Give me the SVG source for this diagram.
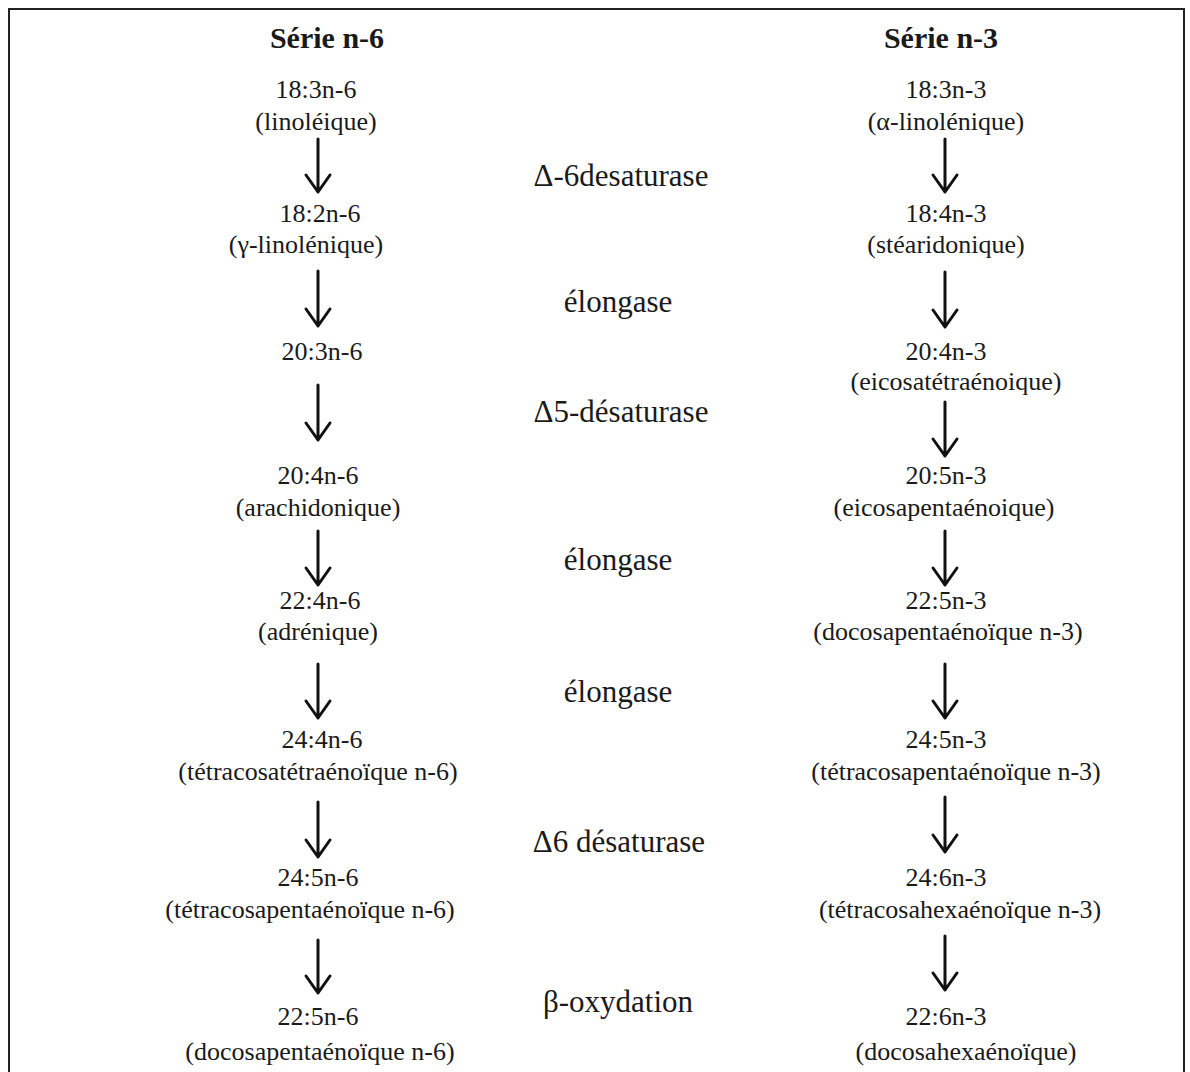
<svg xmlns="http://www.w3.org/2000/svg" width="1190" height="1072" viewBox="0 0 1190 1072">
<style>
  text { font-family: "Liberation Serif", "Times New Roman", serif; fill: #1a1a1a; text-anchor: middle; }
  .hdr { font-size: 30px; font-weight: bold; }
  .n { font-size: 26px; }
  .enz { font-size: 31px; }
  .arr { stroke: #111; stroke-width: 3; fill: none; stroke-linecap: round; stroke-linejoin: round; }
</style>
<rect x="0" y="0" width="1190" height="1072" fill="#ffffff"/>
<rect x="9" y="9" width="1175" height="1080" fill="none" stroke="#222" stroke-width="2"/>

<g id="headers">
  <text id="hdr-n6" class="hdr" x="327" y="48">Série n-6</text>
  <text id="hdr-n3" class="hdr" x="941" y="48">Série n-3</text>
</g>

<g id="enzymes">
  <text id="enz1" class="enz" x="621" y="186">Δ-6desaturase</text>
  <text id="enz2" class="enz" x="618" y="312">élongase</text>
  <text id="enz3" class="enz" x="621" y="422">Δ5-désaturase</text>
  <text id="enz4" class="enz" x="618" y="570">élongase</text>
  <text id="enz5" class="enz" x="618" y="702">élongase</text>
  <text id="enz6" class="enz" x="619" y="852">Δ6 désaturase</text>
  <text id="enz7" class="enz" x="618" y="1012">β-oxydation</text>
</g>

<g id="n6-1"><text class="n" x="316" y="98">18:3n-6</text><text class="n" x="316" y="130">(linoléique)</text></g>
<g id="n6-2"><text class="n" x="320" y="222">18:2n-6</text><text class="n" x="306" y="253">(γ-linolénique)</text></g>
<g id="n6-3"><text class="n" x="322" y="360">20:3n-6</text></g>
<g id="n6-4"><text class="n" x="318" y="484">20:4n-6</text><text class="n" x="318" y="516">(arachidonique)</text></g>
<g id="n6-5"><text class="n" x="320" y="609">22:4n-6</text><text class="n" x="318" y="640">(adrénique)</text></g>
<g id="n6-6"><text class="n" x="322" y="748">24:4n-6</text><text class="n" x="318" y="780">(tétracosatétraénoïque n-6)</text></g>
<g id="n6-7"><text class="n" x="318" y="886">24:5n-6</text><text class="n" x="310" y="918">(tétracosapentaénoïque n-6)</text></g>
<g id="n6-8"><text class="n" x="318" y="1025">22:5n-6</text><text class="n" x="320" y="1060">(docosapentaénoïque n-6)</text></g>

<g id="n3-1"><text class="n" x="946" y="98">18:3n-3</text><text class="n" x="946" y="130">(α-linolénique)</text></g>
<g id="n3-2"><text class="n" x="946" y="222">18:4n-3</text><text class="n" x="946" y="253">(stéaridonique)</text></g>
<g id="n3-3"><text class="n" x="946" y="360">20:4n-3</text><text class="n" x="956" y="390">(eicosatétraénoique)</text></g>
<g id="n3-4"><text class="n" x="946" y="484">20:5n-3</text><text class="n" x="944" y="516">(eicosapentaénoique)</text></g>
<g id="n3-5"><text class="n" x="946" y="609">22:5n-3</text><text class="n" x="948" y="640">(docosapentaénoïque n-3)</text></g>
<g id="n3-6"><text class="n" x="946" y="748">24:5n-3</text><text class="n" x="956" y="780">(tétracosapentaénoïque n-3)</text></g>
<g id="n3-7"><text class="n" x="946" y="886">24:6n-3</text><text class="n" x="960" y="918">(tétracosahexaénoïque n-3)</text></g>
<g id="n3-8"><text class="n" x="946" y="1025">22:6n-3</text><text class="n" x="966" y="1060">(docosahexaénoïque)</text></g>

<g id="connectors" class="arr">
  <path d="M318 139 V192 M306 175 L318 192 L330 175"/>
  <path d="M318 271 V326 M306 309 L318 326 L330 309"/>
  <path d="M318 385 V440 M306 423 L318 440 L330 423"/>
  <path d="M318 531 V585 M306 568 L318 585 L330 568"/>
  <path d="M318 664 V718 M306 701 L318 718 L330 701"/>
  <path d="M318 802 V857 M306 840 L318 857 L330 840"/>
  <path d="M318 940 V993 M306 976 L318 993 L330 976"/>

  <path d="M945 139 V192 M933 175 L945 192 L957 175"/>
  <path d="M945 272 V327 M933 310 L945 327 L957 310"/>
  <path d="M945 402 V456 M933 439 L945 456 L957 439"/>
  <path d="M945 531 V585 M933 568 L945 585 L957 568"/>
  <path d="M945 664 V718 M933 701 L945 718 L957 701"/>
  <path d="M945 797 V852 M933 835 L945 852 L957 835"/>
  <path d="M945 936 V990 M933 973 L945 990 L957 973"/>
</g>
</svg>
